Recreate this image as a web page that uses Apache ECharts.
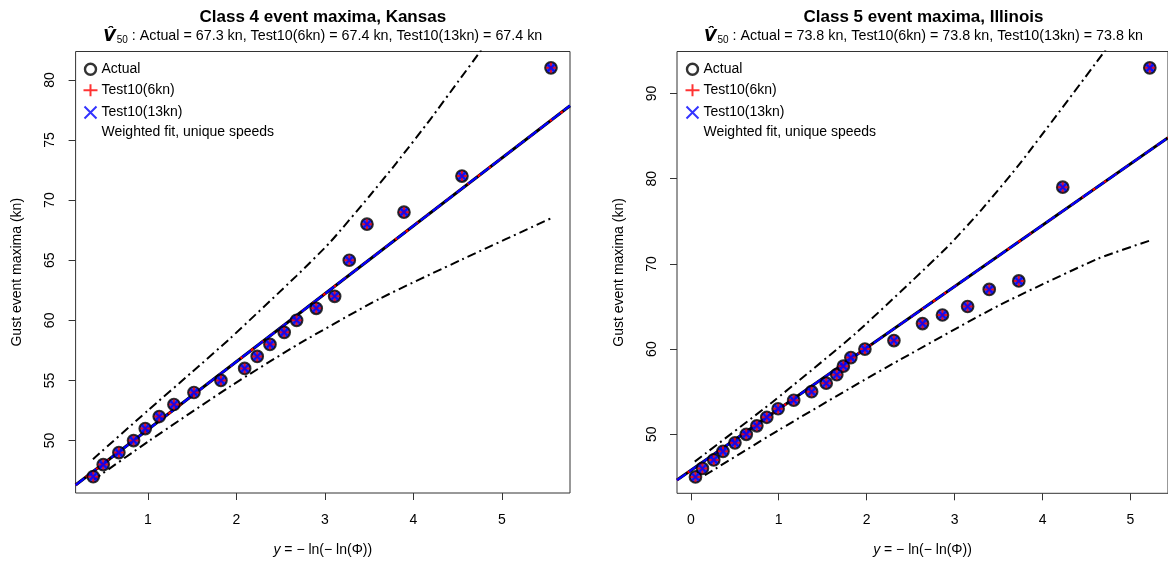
<!DOCTYPE html>
<html>
<head>
<meta charset="utf-8">
<script src="https://cdn.jsdelivr.net/npm/echarts@6/dist/echarts.min.js"></script>
<style>html,body{margin:0;padding:0;background:#fff;}#c{width:1168px;height:566px;}</style>
</head>
<body>
<div id="c"></div>
<script>
// ---------- Data ----------
// Kansas, class 4
const kansasX      = [0.383,0.496,0.673,0.839,0.971,1.129,1.295,1.521,1.826,2.094,2.236,2.380,2.541,2.681,2.903,3.111,3.276,3.476,3.894,4.549,5.555];
const kansasActual = [47,48,49,50,51,52,53,54,55,56,57,58,59,60,61,62,65,68,69,72,81];
const kansas6kn    = [47,48,49,50,51,52,53,54,55,56,57,58,59,60,61,62,65,68,69,72,81];
const kansas13kn   = [47,48,49,50,51,52,53,54,55,56,57,58,59,60,61,62,65,68,69,72,81];
const kansasFitX   = [0.184, 5.77];
const kansasFitY   = [46.3, 77.85];
const kansasUpperX = [0.38, 1.0, 1.5, 1.93, 2.68, 3.06, 3.5, 3.81, 4.19, 4.5, 4.77, 5.0];
const kansasUpperY = [48.45, 52.5, 55.7, 58.5, 63.7, 66.5, 70.3, 73.1, 76.7, 79.8, 82.5, 84.9];
const kansasLowerX = [0.38, 1.02, 1.93, 2.72, 3.62, 4.56, 5.56];
const kansasLowerY = [46.7, 50.0, 54.5, 58.1, 61.8, 65.1, 68.5];
// Illinois, class 5
const illinoisX      = [0.053,0.132,0.261,0.366,0.502,0.631,0.751,0.864,0.993,1.170,1.374,1.540,1.660,1.735,1.820,1.980,2.310,2.635,2.862,3.148,3.394,3.730,4.230,5.220];
const illinoisActual = [45,46,47,48,49,50,51,52,53,54,55,56,57,58,59,60,61,63,64,65,67,68,79,93];
const illinois6kn    = [45,46,47,48,49,50,51,52,53,54,55,56,57,58,59,60,61,63,64,65,67,68,79,93];
const illinois13kn   = [45,46,47,48,49,50,51,52,53,54,55,56,57,58,59,60,61,63,64,65,67,68,79,93];
const illinoisFitX   = [-0.157, 5.427];
const illinoisFitY   = [44.63, 84.8];
const illinoisUpperX = [0.045, 0.93, 1.88, 2.9, 3.31, 3.76, 4.71, 5.0];
const illinoisUpperY = [46.8, 53.8, 61.9, 71.8, 76.4, 82.0, 95.0, 99.2];
const illinoisLowerX = [0.16, 1.0, 1.91, 2.37, 3.5, 4.63, 5.24];
const illinoisLowerY = [45.2, 50.5, 56.0, 58.7, 65.1, 70.6, 72.8];
// Ticks
const xTicksKansas   = [1,2,3,4,5];
const yTicksKansas   = [50,55,60,65,70,75,80];
const xTicksIllinois = [0,1,2,3,4,5];
const yTicksIllinois = [50,60,70,80,90];
// Texts
const titles = ['Class 4 event maxima, Kansas', 'Class 5 event maxima, Illinois'];
const v50 = [
  {actual:'67.3', t6:'67.4', t13:'67.4'},
  {actual:'73.8', t6:'73.8', t13:'73.8'}
];
const legendNames = ['Actual','Test10(6kn)','Test10(13kn)','Weighted fit, unique speeds'];

// ---------- Chart ----------
const FONT = 'Liberation Sans';
const PLUS = 'path://M5,0L5,10M0,5L10,5';
const CROSS = 'path://M0,0L10,10M0,10L10,0';
const LEG_CIRCLE = 'path://M-1.5,-1.5M0,5.5A5.5,5.5,0,1,1,11,5.5A5.5,5.5,0,1,1,0,5.5ZM12.5,12.5';
const LEG_PLUS = 'path://M7,1L7,13M0,7L14,7M0,0M14,14';
const LEG_CROSS = 'path://M-1,-1M0,0L12,12M0,12L12,0M13,13';
const zip = (xs, ys) => xs.map((x, i) => [x, ys[i]]);

const panels = [
  {grid:{left:75.6, top:51.5, width:494.4, height:441.5}, xmin:0.184, xmax:5.77, ymin:45.64, ymax:82.36,
   xt:xTicksKansas, yt:yTicksKansas, X:kansasX, A:kansasActual, B:kansas6kn, C:kansas13kn,
   fx:kansasFitX, fy:kansasFitY, ux:kansasUpperX, uy:kansasUpperY, lx:kansasLowerX, ly:kansasLowerY, legLeft:81},
  {grid:{left:677, top:51.5, width:493, height:441.8}, xmin:-0.157, xmax:5.427, ymin:43.08, ymax:94.92,
   xt:xTicksIllinois, yt:yTicksIllinois, X:illinoisX, A:illinoisActual, B:illinois6kn, C:illinois13kn,
   fx:illinoisFitX, fy:illinoisFitY, ux:illinoisUpperX, uy:illinoisUpperY, lx:illinoisLowerX, ly:illinoisLowerY, legLeft:683}
];

const grid = [], xAxis = [], yAxis = [], series = [], title = [], legend = [];
panels.forEach((p, k) => {
  grid.push(Object.assign({show:true, borderColor:'#333', borderWidth:1, backgroundColor:'transparent'}, p.grid));
  const cx = p.grid.left + p.grid.width / 2;
  title.push({text: titles[k], left: cx, textAlign:'center', top: 7, padding:0,
    textStyle:{fontFamily:FONT, fontWeight:'bold', fontSize:17, color:'#000', lineHeight:20}});
  const d = v50[k];
  title.push({text: '{v|V\u0302}{s|50}{t| : Actual = ' + d.actual + ' kn, Test10(6kn) = ' + d.t6 + ' kn, Test10(13kn) = ' + d.t13 + ' kn}',
    left: cx, textAlign:'center', top: 28, padding:0,
    textStyle:{fontFamily:FONT, fontSize:14, fontWeight:'normal', color:'#000',
      rich:{
        v:{fontFamily:'DejaVu Sans', fontStyle:'italic', fontWeight:'bold', fontSize:16, color:'#000'},
        s:{fontFamily:FONT, fontSize:10, fontWeight:'normal', color:'#000', padding:[7,0,0,1]},
        t:{fontFamily:FONT, fontSize:14.3, fontWeight:'normal', color:'#000'}
      }}});
  xAxis.push({type:'value', gridIndex:k, min:p.xmin, max:p.xmax,
    splitLine:{show:false}, axisLine:{show:false, onZero:false},
    axisTick:{show:true, length:7, customValues:p.xt, lineStyle:{color:'#333'}},
    axisLabel:{customValues:p.xt, margin:20, fontSize:14, fontFamily:FONT, color:'#000'},
    name:'{i|y} = \u2212 ln(\u2212 ln(\u03A6))', nameLocation:'middle', nameGap:50,
    nameTextStyle:{fontFamily:FONT, fontSize:14, color:'#000', rich:{i:{fontStyle:'italic', fontFamily:FONT, fontSize:14, color:'#000'}}}});
  yAxis.push({type:'value', gridIndex:k, min:p.ymin, max:p.ymax,
    splitLine:{show:false}, axisLine:{show:false, onZero:false},
    axisTick:{show:true, length:7, customValues:p.yt, lineStyle:{color:'#333'}},
    axisLabel:{customValues:p.yt, rotate:90, margin:18, fontSize:14, fontFamily:FONT, color:'#000'},
    name:'Gust event maxima (kn)', nameLocation:'middle', nameGap:51,
    nameTextStyle:{fontFamily:FONT, fontSize:14, color:'#000'}});
  const dashDot = [9,4,2,4];
  series.push({type:'line', xAxisIndex:k, yAxisIndex:k, data:zip(p.ux, p.uy), smooth:0.2, symbol:'none', clip:true,
    lineStyle:{color:'#000', width:2, type:dashDot}, z:2, silent:true});
  series.push({type:'line', xAxisIndex:k, yAxisIndex:k, data:zip(p.lx, p.ly), smooth:0.2, symbol:'none', clip:true,
    lineStyle:{color:'#000', width:2, type:dashDot}, z:2, silent:true});
  series.push({name:legendNames[3], type:'line', xAxisIndex:k, yAxisIndex:k, data:zip(p.fx, p.fy), symbol:'none', clip:true,
    lineStyle:{color:'#000', width:3}, itemStyle:{color:'#000'}, z:3});
  series.push({type:'line', xAxisIndex:k, yAxisIndex:k, data:zip(p.fx, p.fy), symbol:'none', clip:true,
    lineStyle:{color:'#ff0000', width:2.2, type:[3,10]}, z:4});
  series.push({type:'line', xAxisIndex:k, yAxisIndex:k, data:zip(p.fx, p.fy), symbol:'none', clip:true,
    lineStyle:{color:'#0000ff', width:2.2, type:[11,4]}, z:5});
  series.push({name:legendNames[0], type:'scatter', xAxisIndex:k, yAxisIndex:k, data:zip(p.X, p.A),
    symbol:'circle', symbolSize:11.5, itemStyle:{color:'#1a1acc', borderColor:'#000', borderWidth:2.2}, z:6});
  series.push({name:legendNames[1], type:'scatter', xAxisIndex:k, yAxisIndex:k, data:zip(p.X, p.B),
    symbol:PLUS, symbolSize:10, itemStyle:{color:'none', borderColor:'#ff0000', borderWidth:2}, z:7});
  series.push({name:legendNames[2], type:'scatter', xAxisIndex:k, yAxisIndex:k, data:zip(p.X, p.C),
    symbol:CROSS, symbolSize:7, itemStyle:{color:'none', borderColor:'#0000ff', borderWidth:2.2}, z:8});
  legend.push({left:p.legLeft, top:61, orient:'vertical', padding:0, itemGap:3.3, itemWidth:14, itemHeight:14,
    selectedMode:false, textStyle:{fontFamily:FONT, fontSize:14, lineHeight:14, color:'#000', padding:[0,0,0,-1]},
    data:[
      {name:legendNames[0], icon:LEG_CIRCLE, itemStyle:{color:'rgba(255,255,255,0)', borderColor:'#000', borderWidth:2.4}},
      {name:legendNames[1], icon:LEG_PLUS, itemStyle:{color:'none', borderColor:'#ff0000', borderWidth:2}},
      {name:legendNames[2], icon:LEG_CROSS, itemStyle:{color:'none', borderColor:'#0000ff', borderWidth:2}},
      {name:legendNames[3], icon:'rect', itemStyle:{opacity:0}}
    ]});
});

const chart = echarts.init(document.getElementById('c'), null, {renderer:'canvas'});
chart.setOption({animation:false, backgroundColor:'#fff', title, grid, xAxis, yAxis, series, legend});
</script>
</body>
</html>
